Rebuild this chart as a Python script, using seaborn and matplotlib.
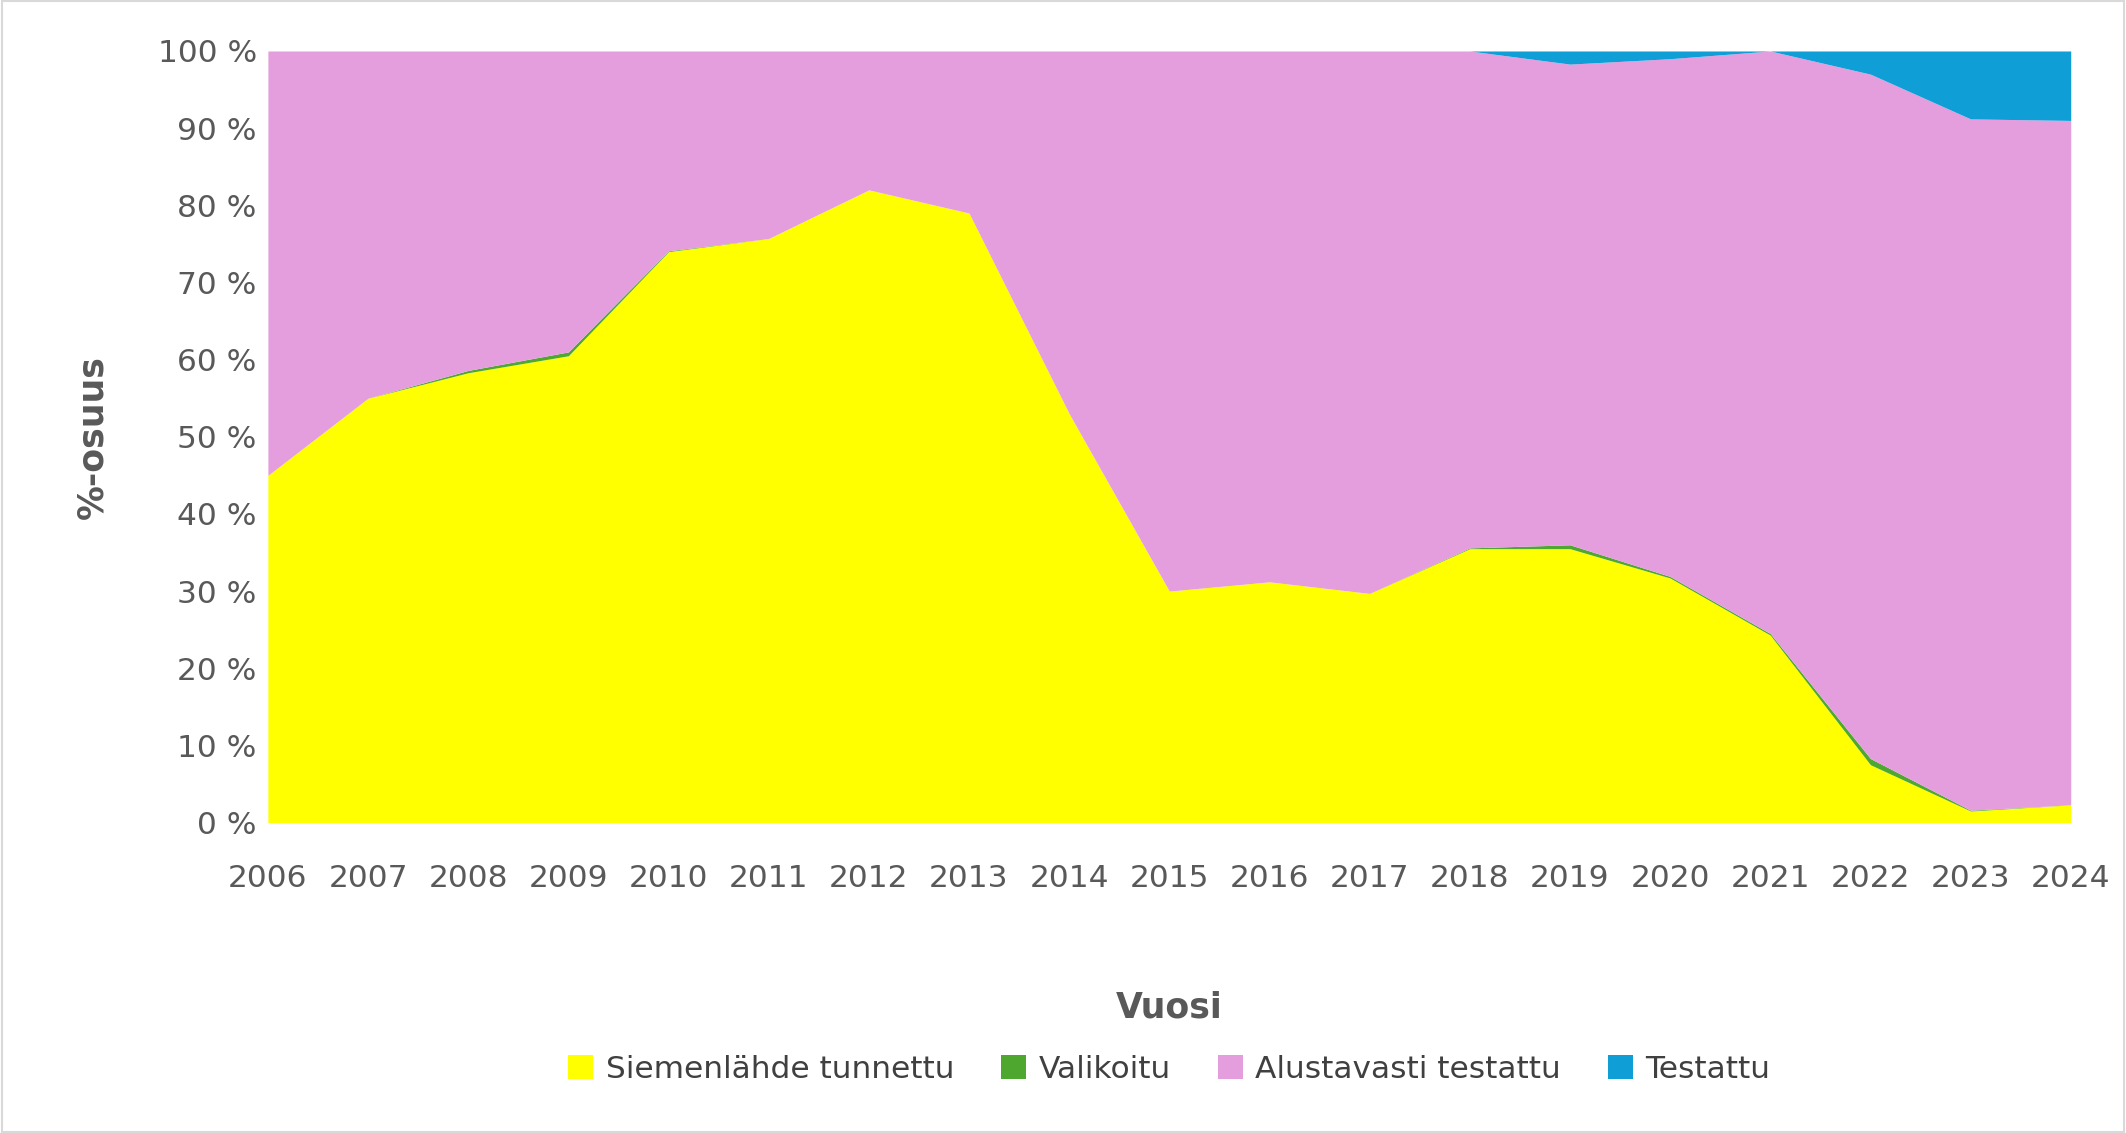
import numpy as np
import pandas as pd
import matplotlib
matplotlib.use('Agg')
import matplotlib.pyplot as plt
import seaborn as sns
from matplotlib.ticker import FuncFormatter

years = list(range(2006, 2025))
siemenlahde = [45, 55, 58.3, 60.5, 74, 75.7, 82, 79, 53, 30, 31.2, 29.7, 35.5, 35.5, 31.7, 24.3, 7.5, 1.5, 2.3]
valikoitu = [0, 0, 0.3, 0.5, 0.1, 0, 0, 0, 0, 0, 0, 0, 0.1, 0.5, 0.2, 0.2, 0.8, 0.1, 0]
testattu = [0, 0, 0, 0, 0, 0, 0, 0, 0, 0, 0, 0, 0, 1.7, 1, 0, 3, 8.8, 9]

df = pd.DataFrame({'Vuosi': years, 'Siemenlähde tunnettu': siemenlahde,
                   'Valikoitu': valikoitu, 'Testattu': testattu})
df['Alustavasti testattu'] = 100 - df['Siemenlähde tunnettu'] - df['Valikoitu'] - df['Testattu']

sns.set_theme(style='white')
plt.rcParams['font.family'] = ['DejaVu Sans']

fig = plt.figure(figsize=(21.26, 11.33), dpi=100)
ax = fig.add_axes([0.126, 0.274, 0.848, 0.681])

cols = ['Siemenlähde tunnettu', 'Valikoitu', 'Alustavasti testattu', 'Testattu']
colors = ['#FFFF00', '#4EA72E', '#E49EDD', '#0F9ED5']
ax.stackplot(df['Vuosi'], [df[c] for c in cols], labels=cols, colors=colors, linewidth=0)

ax.set_xlim(2006, 2024)
ax.set_ylim(0, 100)
ax.set_xticks(years)
ax.set_yticks(range(0, 101, 10))
ax.yaxis.set_major_formatter(FuncFormatter(lambda v, p: f'{int(v)} %'))
ax.tick_params(labelsize=22.5, colors='#595959', length=0)
ax.tick_params(axis='x', pad=30)
ax.tick_params(axis='y', pad=8)
for s in ax.spines.values():
    s.set_visible(False)
ax.set_xlabel('Vuosi', fontsize=25, fontweight='bold', color='#595959', labelpad=70)
ax.set_ylabel('%-osuus', fontsize=25, fontweight='bold', color='#595959', labelpad=35)

ax.legend(loc='upper center', bbox_to_anchor=(0.5, -0.265), ncol=4, frameon=False,
          fontsize=22.5, labelcolor='#404040', handlelength=0.8, handleheight=0.8,
          columnspacing=1.5, handletextpad=0.4)

fig.patches.append(plt.Rectangle((0.001, 0.001), 0.998, 0.998, transform=fig.transFigure,
                                 fill=False, edgecolor='#d9d9d9', linewidth=1.5))
fig.savefig('out.png', dpi=100)
